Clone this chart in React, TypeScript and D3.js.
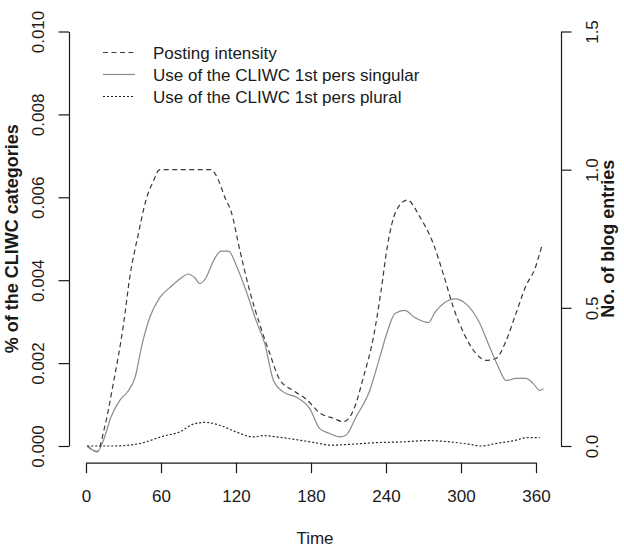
import React, { useEffect, useRef } from 'react';
import * as d3 from 'd3';

// posting intensity (right axis, no. of blog entries)
const postDays = [1, 9, 15, 22, 30, 35, 42, 48, 54, 59, 100, 104, 112, 116, 123, 131, 139, 147, 155, 166, 176, 187, 198, 206, 214, 222, 230, 236, 241, 248, 257, 267, 278, 286, 294, 302, 312, 320, 328, 336, 344, 352, 359, 365];
const postValues = [0.0, -0.02, 0.07, 0.23, 0.44, 0.61, 0.77, 0.89, 0.96, 1.0, 1.0, 0.98, 0.89, 0.85, 0.71, 0.56, 0.44, 0.335, 0.24, 0.2, 0.17, 0.12, 0.1, 0.088, 0.13, 0.25, 0.395, 0.56, 0.72, 0.85, 0.89, 0.83, 0.73, 0.62, 0.5, 0.41, 0.335, 0.31, 0.317, 0.38, 0.48, 0.58, 0.64, 0.73];

// 1st pers singular (left axis)
const singDays = [1, 9, 14, 20, 27, 34, 39, 45, 51, 59, 67, 75, 82, 87, 91, 96, 102, 108, 114, 121, 128, 136, 143, 150, 158, 168, 179, 187, 195, 203, 208, 216, 227, 235, 241, 247, 255, 263, 274, 279, 287, 295, 304, 314, 323, 330, 336, 344, 352, 358, 363, 366];
const singValues = [0.0, -0.00014, 0.00014, 0.0007, 0.0011, 0.00134, 0.00163, 0.00247, 0.0031, 0.00358, 0.00382, 0.00403, 0.00415, 0.00406, 0.00392, 0.00406, 0.00447, 0.0047, 0.0047, 0.0043, 0.00375, 0.00303, 0.00247, 0.00158, 0.0013, 0.00118, 0.0009, 0.00042, 0.0003, 0.00022, 0.00026, 0.0007, 0.00134, 0.00214, 0.00275, 0.00319, 0.00327, 0.0031, 0.00298, 0.00322, 0.00346, 0.00355, 0.00343, 0.00302, 0.00238, 0.0019, 0.00158, 0.00163, 0.00163, 0.0015, 0.00134, 0.00138];

// 1st pers plural (left axis)
const plurDays = [1, 22, 43, 62, 75, 86, 95, 107, 120, 134, 142, 155, 171, 187, 195, 211, 232, 254, 272, 291, 307, 316, 328, 344, 352, 363];
const plurValues = [0, 0, 0.00006, 0.00024, 0.00034, 0.00053, 0.00057, 0.0005, 0.00034, 0.00022, 0.00025, 0.00021, 0.00014, 0.00006, 0.00002, 0.00004, 0.00008, 0.0001, 0.00013, 0.0001, 0.00004, 0, 0.00006, 0.00014, 0.0002, 0.0002];

const xTicks = [0, 60, 120, 180, 240, 300, 360];
const leftTicks = [0, 0.002, 0.004, 0.006, 0.008, 0.01];
const rightTicks = [0, 0.5, 1.0, 1.5];

const legendLabels = [
  'Posting intensity',
  'Use of the CLIWC 1st pers singular',
  'Use of the CLIWC 1st pers plural',
];

const App = () => {
  const svgRef = useRef<SVGSVGElement>(null);

  useEffect(() => {
    if (!svgRef.current) return;
    const width = 624;
    const height = 549;
    const font = '"Liberation Sans", Arial, sans-serif';
    const ink = '#1a1a1a';

    d3.select(svgRef.current).selectAll('*').remove();
    const svg = d3.select(svgRef.current)
      .attr('width', width)
      .attr('height', height)
      .attr('viewBox', `0 0 ${width} ${height}`)
      .style('font-family', font);

    const x = d3.scaleLinear().domain([0, 360]).range([86, 536]);
    const yL = d3.scaleLinear().domain([0, 0.01]).range([446, 31.5]);
    const yR = d3.scaleLinear().domain([0, 1.5]).range([446, 31.5]);

    const leftX = 69;
    const rightX = 561;
    const bottomY = 462.7;

    // axes
    const xAxis = svg.append('g')
      .attr('transform', `translate(0,${bottomY})`)
      .call(d3.axisBottom(x).tickValues(xTicks).tickSize(10.5).tickSizeOuter(0).tickPadding(6));
    xAxis.selectAll('text').attr('y', 39.5).attr('dy', null).style('font-size', '17px');

    const lAxis = svg.append('g')
      .attr('transform', `translate(${leftX},0)`)
      .call(d3.axisLeft(yL).tickValues(leftTicks).tickSize(10.5).tickSizeOuter(0).tickFormat(d3.format('.3f')));
    lAxis.selectAll('text')
      .attr('x', null).attr('dy', null)
      .attr('text-anchor', 'middle')
      .attr('transform', 'translate(-25,0) rotate(-90)')
      .style('font-size', '17px');

    const rAxis = svg.append('g')
      .attr('transform', `translate(${rightX},0)`)
      .call(d3.axisRight(yR).tickValues(rightTicks).tickSize(10.5).tickSizeOuter(0).tickFormat(d3.format('.1f')));
    rAxis.selectAll('text')
      .attr('x', null).attr('dy', null)
      .attr('text-anchor', 'middle')
      .attr('transform', 'translate(37,0) rotate(-90)')
      .style('font-size', '17px');

    svg.selectAll('.domain, .tick line').attr('stroke', ink).attr('stroke-width', 1.2);
    svg.selectAll('.tick text').attr('fill', ink).style('font-family', font);

    // titles
    svg.append('text')
      .attr('transform', `translate(18,${(14.8 + bottomY) / 2}) rotate(-90)`)
      .attr('text-anchor', 'middle')
      .attr('font-size', '18px')
      .attr('font-weight', 'bold')
      .attr('fill', ink)
      .text('% of the CLIWC categories');

    svg.append('text')
      .attr('transform', `translate(614,${(14.8 + bottomY) / 2}) rotate(-90)`)
      .attr('text-anchor', 'middle')
      .attr('font-size', '18px')
      .attr('font-weight', 'bold')
      .attr('fill', ink)
      .text('No. of blog entries');

    svg.append('text')
      .attr('x', (leftX + rightX) / 2)
      .attr('y', 544)
      .attr('text-anchor', 'middle')
      .attr('font-size', '17px')
      .attr('fill', ink)
      .text('Time');

    // lines
    const series = [
      { days: postDays, values: postValues, y: yR, color: '#3a3a3a', dash: '5,3.5' },
      { days: singDays, values: singValues, y: yL, color: '#8a8a8a', dash: null },
      { days: plurDays, values: plurValues, y: yL, color: '#262626', dash: '2,2' },
    ];

    series.forEach(s => {
      const pts = s.days.map((d, i) => [d, s.values[i]] as [number, number]);
      const line = d3.line<[number, number]>()
        .x(d => x(d[0]))
        .y(d => s.y(d[1]))
        .curve(d3.curveMonotoneX);
      svg.append('path')
        .attr('d', line(pts))
        .attr('fill', 'none')
        .attr('stroke', s.color)
        .attr('stroke-width', 1.2)
        .attr('stroke-dasharray', s.dash);
    });

    // legend
    const legend = svg.append('g');
    legendLabels.forEach((label, i) => {
      const ly = 52.5 + i * 22;
      legend.append('line')
        .attr('x1', 103).attr('x2', 135)
        .attr('y1', ly).attr('y2', ly)
        .attr('stroke', series[i].color)
        .attr('stroke-width', 1.2)
        .attr('stroke-dasharray', series[i].dash);
      legend.append('text')
        .attr('x', 153)
        .attr('y', ly + 6)
        .attr('font-size', '17px')
        .attr('fill', ink)
        .text(label);
    });
  }, []);

  return (
    <div style={{ position: 'absolute', left: 0, top: 0, background: '#fff' }}>
      <svg ref={svgRef}></svg>
    </div>
  );
};

export default App;
